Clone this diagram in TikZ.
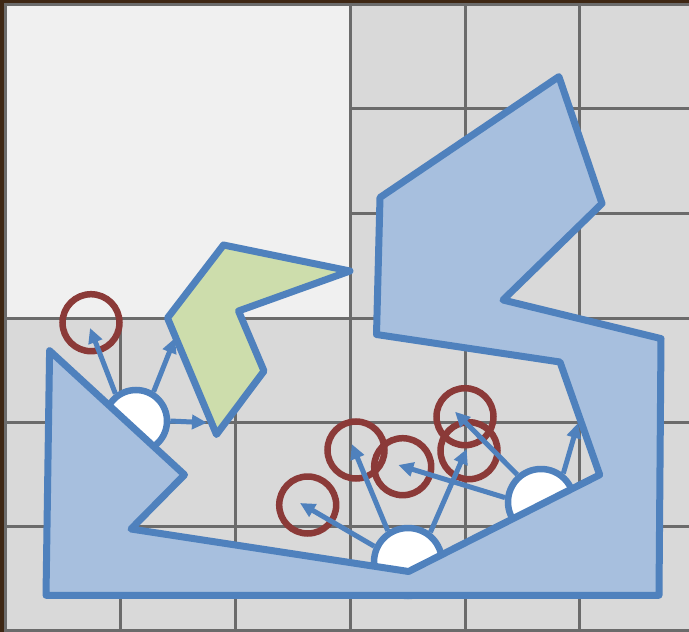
\documentclass[tikz,border=0pt]{standalone}
\usetikzlibrary{arrows.meta}
\definecolor{bgbrown}{HTML}{3E2714}
\definecolor{gridbg}{HTML}{D9D9D9}
\definecolor{lightcell}{HTML}{F0F0F0}
\definecolor{gridline}{HTML}{6B6B6B}
\definecolor{myblue}{HTML}{4F81BD}
\definecolor{bluefill}{HTML}{A7BFDE}
\definecolor{greenfill}{HTML}{CDDDAC}
\definecolor{myred}{HTML}{8B3A38}
\tikzset{
  gline/.style={draw=gridline, line width=3pt},
  sensor/.style={circle, draw=myblue, fill=white, line width=6.5pt, inner sep=0pt},
  ring/.style={circle, draw=myred, line width=6.5pt, minimum size=57pt, inner sep=0pt},
  ray/.style={draw=myblue, line width=5pt, -{Triangle[length=15pt,width=14pt]}},
  bluepoly/.style={draw=myblue, fill=bluefill, line width=7pt, line join=round},
  greenpoly/.style={draw=myblue, fill=greenfill, line width=7pt, line join=round},
}
\begin{document}
\begin{tikzpicture}[x=1pt,y=-1pt]
\useasboundingbox (0,0) rectangle (689,632);
\fill[bgbrown] (0,0) rectangle (689,632);
% grid
\fill[gridbg] (5.5,4.7) rectangle (700,640);
\fill[lightcell] (5.5,4.7) rectangle (350,318);
\draw[gline] (350,4.7) -- (350,640);
\draw[gline] (465,4.7) -- (465,640);
\draw[gline] (579,4.7) -- (579,640);
\draw[gline] (120,318) -- (120,640);
\draw[gline] (235,318) -- (235,640);
\draw[gline] (350,108) -- (700,108);
\draw[gline] (350,213) -- (700,213);
\draw[gline] (5.5,318) -- (700,318);
\draw[gline] (5.5,422) -- (700,422);
\draw[gline] (5.5,526) -- (700,526);
\draw[gline] (5.5,630.5) -- (700,630.5);
\draw[gline] (5.5,640) -- (5.5,4.7) -- (700,4.7);
% sensors
\node[sensor, minimum size=62pt] (s1) at (136,421) {};
\node[sensor, minimum size=68pt] (s2) at (408,562) {};
\node[sensor, minimum size=66pt] (s3) at (541,502) {};
% obstacles
\draw[bluepoly] (49.6,350.7) -- (184.5,474.8) -- (131,529) -- (408.6,571.5)
  -- (599.7,474.8) -- (560,362) -- (376.5,334.5) -- (380,197.5) -- (558.9,76.6)
  -- (602,203.5) -- (503,300) -- (661,338.6) -- (659,595.3) -- (46,595.3) -- cycle;
\draw[greenpoly] (223.5,245) -- (350,271) -- (238.5,311) -- (264,371)
  -- (216.5,434.5) -- (167.5,318) -- cycle;
% detections
\node[ring] (c1) at (91,322.7) {};
\node[ring] (ca) at (307.7,505) {};
\node[ring] (cb) at (356,450) {};
\node[ring] (cc) at (402.7,466.7) {};
\node[ring] (cd) at (465,416.7) {};
\node[ring] (ce) at (469,450.7) {};
% ray tips
\coordinate (t1) at (90,328);
\coordinate (t2) at (175,338);
\coordinate (t3) at (207,422.7);
\coordinate (t4) at (300,503);
\coordinate (t5) at (351.7,444);
\coordinate (t6) at (466.7,449);
\coordinate (t7) at (398.3,465);
\coordinate (t8) at (455,411.7);
\coordinate (t9) at (578,423);
% rays
\draw[ray] (s1.127) -- (t1);
\draw[ray] (s1.59) -- (t2);
\draw[ray] (s1.0) -- (t3);
\draw[ray] (s2.155) -- (t4);
\draw[ray] (s2.123) -- (t5);
\draw[ray] (s2.53) -- (t6);
\draw[ray] (s3.173) -- (t7);
\draw[ray] (s3.131) -- (t8);
\draw[ray] (s3.52) -- (t9);
\end{tikzpicture}
\end{document}
